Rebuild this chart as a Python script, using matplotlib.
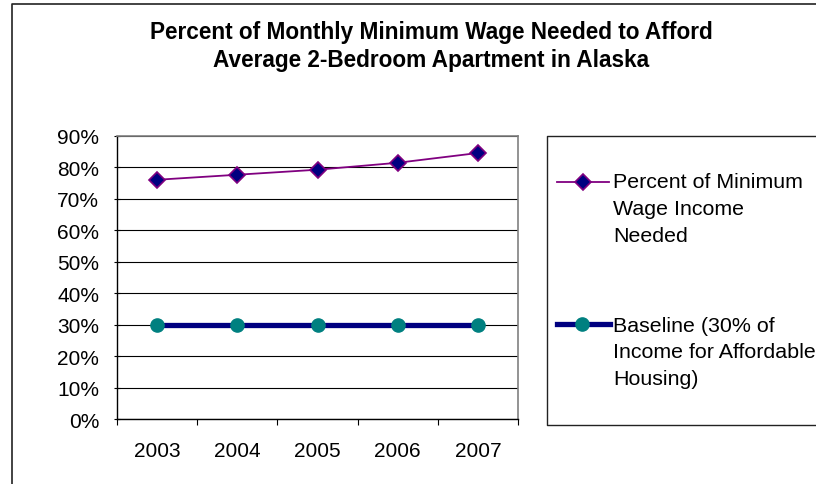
import matplotlib.pyplot as plt
from matplotlib.lines import Line2D
from matplotlib.ticker import FixedLocator, PercentFormatter

plt.rcParams['font.family'] = ['Liberation Sans', 'DejaVu Sans']

# Data
years = ['2003', '2004', '2005', '2006', '2007']
pct_needed = [0.760, 0.776, 0.792, 0.814, 0.845]
baseline = [0.30, 0.30, 0.30, 0.30, 0.30]
label_needed = 'Percent of Minimum\nWage Income\nNeeded'
label_base = 'Baseline (30% of\nIncome for Affordable\nHousing)'

W, H = 816, 485
fig = plt.figure(figsize=(W / 100, H / 100), dpi=100)


def fx(px):
    return px / W


def fy(py):
    return 1 - py / H


def fig_polyline(xs, ys, **kw):
    fig.lines.append(Line2D([fx(v) for v in xs], [fy(v) for v in ys],
                            transform=fig.transFigure, **kw))


# outer chart frame (runs off the right and bottom edges)
fig_polyline([W + 30, 12, 12], [5, 5, H + 30], color='#222222', linewidth=1.2)

ax = fig.add_axes([fx(117), fy(420), fx(518 - 117), fy(136.7) - fy(420)])
x = range(len(years))

ax.plot(x, baseline, color='#000080', linewidth=3.8, marker='o', markersize=9.5,
        markerfacecolor='#008080', markeredgecolor='#008080', zorder=3)
ax.plot(x, pct_needed, color='#800080', linewidth=1.3, marker='D', markersize=8,
        markerfacecolor='#000080', markeredgecolor='#800080', markeredgewidth=1.2,
        zorder=4)

ax.set_xlim(-0.5, len(years) - 0.5)
ax.set_ylim(0, 0.9)
ax.yaxis.set_major_locator(FixedLocator([i / 10 for i in range(10)]))
ax.yaxis.set_major_formatter(PercentFormatter(1.0, decimals=0))
ax.grid(axis='y', color='black', linewidth=0.8)
ax.set_axisbelow(True)

ax.set_xticks(list(x))
ax.set_xticklabels(years)
ax.set_xticks([i - 0.5 for i in range(len(years) + 1)], minor=True)
ax.tick_params(axis='x', which='major', length=0, pad=16, labelsize=15)
ax.tick_params(axis='x', which='minor', direction='out', length=4.5, width=0.8)
ax.tick_params(axis='y', direction='inout', length=4.5, width=0.8, pad=10.5,
               labelsize=15)

for side in ('top', 'right'):
    ax.spines[side].set_color('#808080')
    ax.spines[side].set_linewidth(1.2)
for side in ('left', 'bottom'):
    ax.spines[side].set_color('black')
    ax.spines[side].set_linewidth(1.0)

fig.text(fx(431.5), fy(46.8), 'Percent of Monthly Minimum Wage Needed to Afford\n'
         'Average 2-Bedroom Apartment in Alaska', ha='center', va='center',
         fontsize=16.3, fontweight='bold', linespacing=1.3)

# legend box (right side runs off the edge)
fig_polyline([W + 30, 547, 547, W + 30], [137, 137, 425.5, 425.5],
             color='#222222', linewidth=1.0)

fig_polyline([557, 609], [183, 183], color='#800080', linewidth=1.3)
fig_polyline([583], [183], linestyle='none', marker='D', markersize=8,
             markerfacecolor='#000080', markeredgecolor='#800080',
             markeredgewidth=1.2)
fig_polyline([557, 610], [325, 325], color='#000080', linewidth=3.8)
fig_polyline([582], [325], linestyle='none', marker='o', markersize=9.5,
             markerfacecolor='#008080', markeredgecolor='#008080')

fig.text(fx(613), fy(173), label_needed, ha='left', va='top', fontsize=15.4,
         linespacing=1.52)
fig.text(fx(613), fy(316.5), label_base, ha='left', va='top', fontsize=15.4,
         linespacing=1.52)

fig.savefig('out.png', dpi=100)
